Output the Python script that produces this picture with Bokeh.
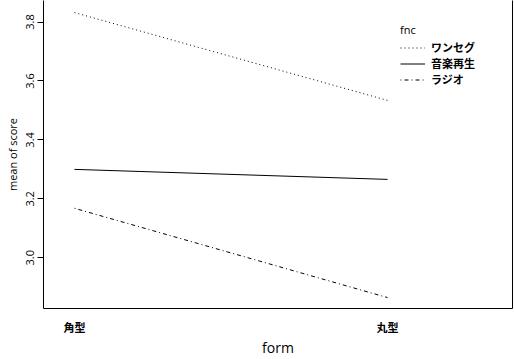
from bokeh.plotting import figure
from bokeh.models import (ColumnDataSource, FixedTicker, LinearAxis, Legend,
                          LegendItem, Range1d)
from bokeh.embed import file_html
from bokeh.resources import INLINE

# ---- data ----
form_levels = ["角型", "丸型"]
form_pos = [1, 2]
fnc_levels = ["ワンセグ", "音楽再生", "ラジオ"]
wanseg = [3.832, 3.534]
ongaku = [3.300, 3.266]
radio = [3.168, 2.865]
y_ticks = [3.0, 3.2, 3.4, 3.6, 3.8]

JP = "Noto Sans CJK JP"
LAT = "Open Sans"

p = figure(width=514, height=359, output_backend="svg", toolbar_location=None,
           x_range=Range1d(0.901, 2.399), y_range=Range1d(2.828, 3.873),
           min_border_left=43, min_border_right=2, min_border_top=0,
           min_border_bottom=49, x_axis_location="below")
p.outline_line_color = None
p.xgrid.visible = False
p.ygrid.visible = False
p.background_fill_color = "white"
p.border_fill_color = "white"

styles = [("dotted", wanseg), ("solid", ongaku), ("dashdot", radio)]
dashes = {"dotted": "1 3", "solid": "solid", "dashdot": "1 3 4 3"}
items = []
for name, (dash, vals) in zip(fnc_levels, styles):
    src = ColumnDataSource(dict(x=form_pos, y=vals))
    r = p.line("x", "y", source=src, line_color="black", line_width=1,
               line_dash=dashes[dash])
    items.append(LegendItem(label=name, renderers=[r]))

# x axis
xa = p.xaxis[0]
xa.ticker = FixedTicker(ticks=form_pos)
xa.major_label_overrides = {pos: lab for pos, lab in zip(form_pos, form_levels)}
xa.major_tick_line_color = None
xa.major_tick_out = 0
xa.major_tick_in = 0
xa.minor_tick_line_color = None
xa.major_label_text_font = JP
xa.major_label_text_font_style = "bold"
xa.major_label_text_font_size = "11px"
xa.major_label_text_color = "black"
xa.major_label_standoff = 10
xa.axis_label = "form"
xa.axis_label_text_font = LAT
xa.axis_label_text_font_style = "normal"
xa.axis_label_text_font_size = "14px"
xa.axis_label_text_color = "black"
xa.axis_label_standoff = 0
xa.axis_line_color = "black"

# y axis
ya = p.yaxis[0]
ya.ticker = FixedTicker(ticks=y_ticks)
ya.major_label_overrides = {t: f"{t:.1f}" for t in y_ticks}
ya.major_tick_out = 6
ya.major_tick_in = 0
ya.major_tick_line_color = "black"
ya.minor_tick_line_color = None
ya.major_label_orientation = "vertical"
ya.major_label_text_font = LAT
ya.major_label_text_font_size = "11px"
ya.major_label_text_color = "black"
ya.major_label_standoff = 3
ya.axis_label = "mean of score"
ya.axis_label_text_font = LAT
ya.axis_label_text_font_style = "normal"
ya.axis_label_text_font_size = "11px"
ya.axis_label_text_color = "black"
ya.axis_label_standoff = 4
ya.axis_line_color = "black"

# right border
ra = LinearAxis(ticker=FixedTicker(ticks=[]), major_tick_out=0, major_tick_in=0,
                major_label_text_font_size="0px", major_label_standoff=0,
                axis_label_standoff=0, axis_line_color="black",
                minor_tick_line_color=None)
p.add_layout(ra, "right")

legend = Legend(items=items, location=(357, 221), title="fnc",
                title_text_font=LAT, title_text_font_size="11px",
                title_text_font_style="normal", title_text_color="black",
                title_standoff=2,
                label_text_font=JP, label_text_font_style="bold",
                label_text_color="black",
                label_text_font_size="11px", glyph_width=25, glyph_height=15,
                label_height=15, label_standoff=6, spacing=0, padding=0,
                margin=0, border_line_color=None, background_fill_alpha=0)
p.add_layout(legend, "center")

open("out.html", "w").write(file_html(p, INLINE))
